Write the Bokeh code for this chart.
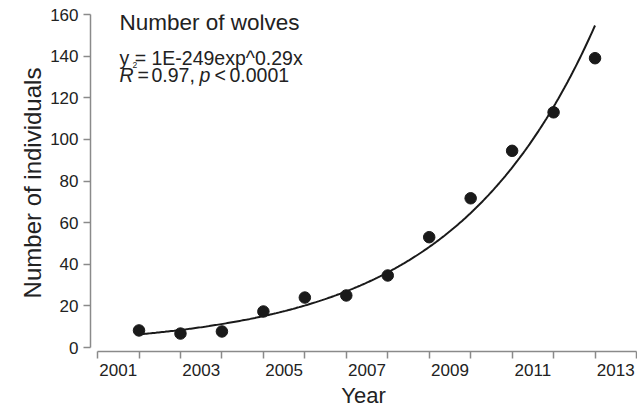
import numpy as np
from bokeh.plotting import figure
from bokeh.models import FixedTicker, Label, Range1d
from bokeh.embed import file_html
from bokeh.resources import INLINE

# ---- data ----
years = [2002, 2003, 2004, 2005, 2006, 2007, 2008, 2009, 2010, 2011, 2012, 2013]
wolves = [8.2, 6.7, 7.7, 17.3, 24.0, 25.0, 34.6, 53.0, 71.7, 94.5, 113.0, 139.0]
label_years = [2001, 2003, 2005, 2007, 2009, 2011, 2013]
tick_years = list(range(2001, 2015))
y_ticks = [0, 20, 40, 60, 80, 100, 120, 140, 160]

# exponential fit drawn in the figure: y = fit_a * exp(fit_b * (year - fit_start))
fit_a = 6.3
fit_b = 0.291
fit_start = 2002
fit_end = 2013

FONT = "Liberation Sans"
TXT = "#222222"
AX = "#8a8a8a"

X0, X1 = 2000.83, 2014.0
Y0, Y1 = -1.92, 160.0
FL, FR, FT, FB = 90, 636, 14, 351  # frame edges in page pixels


def sx(px):
    return X0 + (px - FL) * (X1 - X0) / (FR - FL)


def sy(py):
    return Y1 - (py - FT) * (Y1 - Y0) / (FB - FT)


p = figure(width=637, height=411,
           x_range=Range1d(X0, X1), y_range=Range1d(Y0, Y1),
           output_backend="svg", toolbar_location=None,
           min_border_top=14, min_border_left=90, min_border_right=1,
           min_border_bottom=60)
p.outline_line_color = None
p.xgrid.visible = False
p.ygrid.visible = False

# x axis: labels centred in yearly bins, tick marks at bin edges
xa = p.xaxis[0]
xa.ticker = FixedTicker(ticks=[y + 0.5 for y in label_years], minor_ticks=tick_years)
xa.major_label_overrides = {y + 0.5: str(y) for y in label_years}
xa.bounds = (tick_years[0], tick_years[-1])
xa.major_tick_in = 0
xa.major_tick_out = 0
xa.minor_tick_in = 0
xa.minor_tick_out = 7
xa.minor_tick_line_color = AX
xa.minor_tick_line_width = 1.5
xa.axis_label = "Year"
xa.axis_label_text_font_size = "22px"
xa.axis_label_standoff = 4
xa.major_label_standoff = 5

ya = p.yaxis[0]
ya.ticker = FixedTicker(ticks=y_ticks, minor_ticks=[])
ya.bounds = (y_ticks[0], y_ticks[-1])
ya.major_tick_in = 0
ya.major_tick_out = 7
ya.minor_tick_out = 0
ya.axis_label = "Number of individuals"
ya.axis_label_text_font_size = "24px"
ya.axis_label_standoff = 1
ya.major_label_standoff = 5

for ax in (xa, ya):
    ax.axis_line_color = AX
    ax.axis_line_width = 1.5
    ax.major_tick_line_color = AX
    ax.major_tick_line_width = 1.5
    ax.major_label_text_font = FONT
    ax.major_label_text_font_size = "17px"
    ax.major_label_text_color = TXT
    ax.axis_label_text_font = FONT
    ax.axis_label_text_font_style = "normal"
    ax.axis_label_text_color = TXT

# fitted curve
xs = np.linspace(fit_start, fit_end, 300)
ys = fit_a * np.exp(fit_b * (xs - fit_start))
p.line(xs, ys, line_width=2, line_color="#1a1a1a")

# data points
p.scatter(years, wolves, size=11.5, fill_color="#1a1a1a", line_color="#1a1a1a")


def lab(px, py, text, size, style="normal"):
    p.add_layout(Label(x=sx(px), y=sy(py), text=text, text_font=FONT,
                       text_font_size=size, text_font_style=style,
                       text_color=TXT, text_baseline="alphabetic",
                       text_align="left"))


lab(119, 22, "Number of wolves", "22.5px")
lab(119, 57, "y = 1E-249exp^0.29x", "19.5px")
lab(119, 74, "R", "19.5px", "italic")
lab(132, 64, "2", "8.5px")
lab(137, 74, "=", "19.5px")
lab(151, 74, "0.97,", "19.5px")
lab(199, 74, "p", "19.5px", "italic")
lab(214, 74, "<", "19.5px")
lab(229, 74, "0.0001", "19.5px")

open("out.html", "w").write(file_html(p, INLINE))
